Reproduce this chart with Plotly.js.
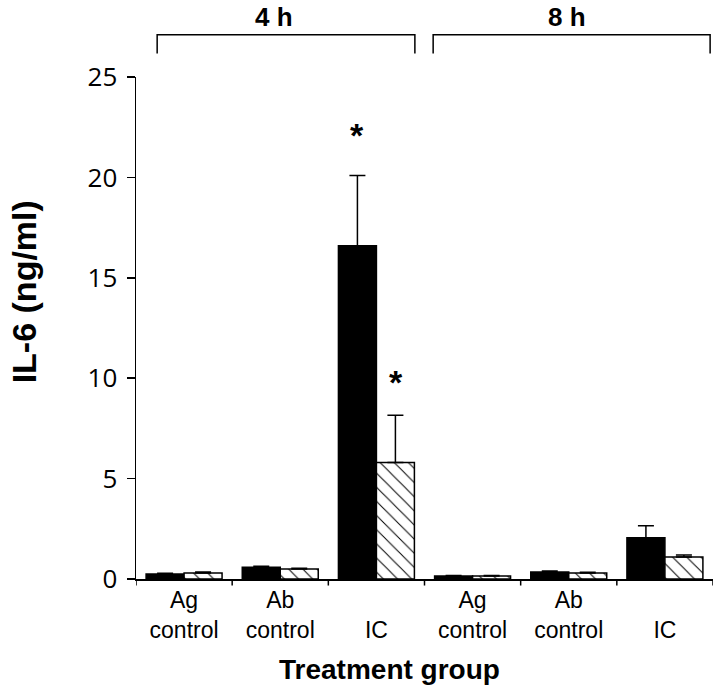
<!DOCTYPE html>
<html>
<head>
<meta charset="utf-8">
<script src="https://cdn.plot.ly/plotly-3.0.1.min.js"></script>
<style>html,body{margin:0;padding:0;background:#fff;}#chart{width:720px;height:694px;}</style>
</head>
<body>
<div id="chart"></div>
<script>
// Data
const categories = ["Ag<br>control", "Ab<br>control", " <br>IC", "Ag<br>control", "Ab<br>control", " <br>IC"];
const catIds = [0, 1, 2, 3, 4, 5];
const solidValues = [0.25, 0.58, 16.6, 0.15, 0.35, 2.05];
const solidErr = [0.04, 0.05, 3.5, 0.02, 0.05, 0.6];
const hatchValues = [0.3, 0.5, 5.8, 0.15, 0.3, 1.1];
const hatchErr = [0.05, 0.04, 2.35, 0.02, 0.04, 0.1];
const yTicks = [0, 5, 10, 15, 20, 25];
const starX = [1.8, 2.2];
const starY = [22.1, 9.8];
const groupLabels = ["4 h", "8 h"];
const groupLabelX = [0.93, 3.98];
const bracketStart = [-0.28, 2.59];
const bracketEnd = [2.40, 5.47];

const traces = [
  {
    type: "bar", x: catIds, y: solidValues,
    marker: {color: "#000", line: {color: "#000", width: 1.5}},
    error_y: {type: "data", array: solidErr, arrayminus: solidErr.map(() => 0), symmetric: false,
              color: "#000", thickness: 1.5, width: 8},
    showlegend: false, hoverinfo: "skip"
  },
  {
    type: "bar", x: catIds, y: hatchValues,
    marker: {color: "#fff", line: {color: "#000", width: 1.5},
             pattern: {shape: "\\", fgcolor: "#000", bgcolor: "#fff", size: 10, solidity: 0.1}},
    error_y: {type: "data", array: hatchErr, arrayminus: hatchErr.map(() => 0), symmetric: false,
              color: "#000", thickness: 1.5, width: 8},
    showlegend: false, hoverinfo: "skip"
  }
];

const shapes = [];
const annotations = [];
bracketStart.forEach((s, i) => {
  const e = bracketEnd[i];
  shapes.push({type: "path", xref: "x", yref: "paper",
    path: `M ${s} 1.047 L ${s} 1.084 L ${e} 1.084 L ${e} 1.047`,
    line: {color: "#000", width: 1.5}});
  annotations.push({text: "<b>" + groupLabels[i] + "</b>", x: groupLabelX[i], xref: "x", xanchor: "center",
    y: 1.12, yref: "paper", yanchor: "middle", showarrow: false,
    font: {family: "Liberation Sans, Arial", size: 26, color: "#000"}});
});
starX.forEach((sx, i) => {
  annotations.push({text: "<b>*</b>", x: sx, y: starY[i], xref: "x", yref: "y", xanchor: "center", yanchor: "middle",
    showarrow: false, font: {family: "Liberation Sans, Arial", size: 34, color: "#000"}});
});
annotations.push({text: "<b>IL-6 (ng/ml)</b>", textangle: -90, xref: "paper", yref: "paper",
  x: -0.195, y: 0.572, xanchor: "center", yanchor: "middle", showarrow: false,
  font: {family: "Liberation Sans, Arial", size: 34, color: "#000"}});
annotations.push({text: "<b>Treatment group</b>", xref: "paper", yref: "paper",
  x: 0.4385, y: -0.18, xanchor: "center", yanchor: "middle", showarrow: false,
  font: {family: "Liberation Sans, Arial", size: 28, color: "#000"}});

// boundary ticks on the x axis
[-0.5, 0.5, 1.5, 2.5, 3.5, 4.5, 5.5].forEach(b => {
  shapes.push({type: "line", xref: "x", yref: "paper", x0: b, x1: b, y0: 0, y1: -0.013,
    line: {color: "#000", width: 1.5}});
});

const layout = {
  width: 720, height: 694,
  margin: {l: 136, r: 7, t: 77, b: 115},
  paper_bgcolor: "#fff", plot_bgcolor: "#fff",
  barmode: "group", bargap: 0.21, bargroupgap: 0,
  xaxis: {
    type: "linear", range: [-0.5, 5.5], tickmode: "array", tickvals: catIds, ticktext: categories,
    showgrid: false, zeroline: false, showline: true, linecolor: "#000", linewidth: 1.5,
    ticks: "", tickfont: {family: "Liberation Sans, Arial", size: 23, color: "#000"}
  },
  yaxis: {
    range: [0, 25], tickmode: "array", tickvals: yTicks, ticktext: yTicks.map(String),
    showgrid: false, zeroline: false, showline: true, linecolor: "#000", linewidth: 1.5,
    ticks: "outside", ticklen: 8, tickwidth: 1.5, tickcolor: "#000", ticklabelstandoff: 4,
    tickfont: {family: "Open Sans, Noto Sans, sans-serif", size: 26, color: "#000"}
  },
  shapes: shapes,
  annotations: annotations
};

Plotly.newPlot("chart", traces, layout, {staticPlot: true});
</script>
</body>
</html>
